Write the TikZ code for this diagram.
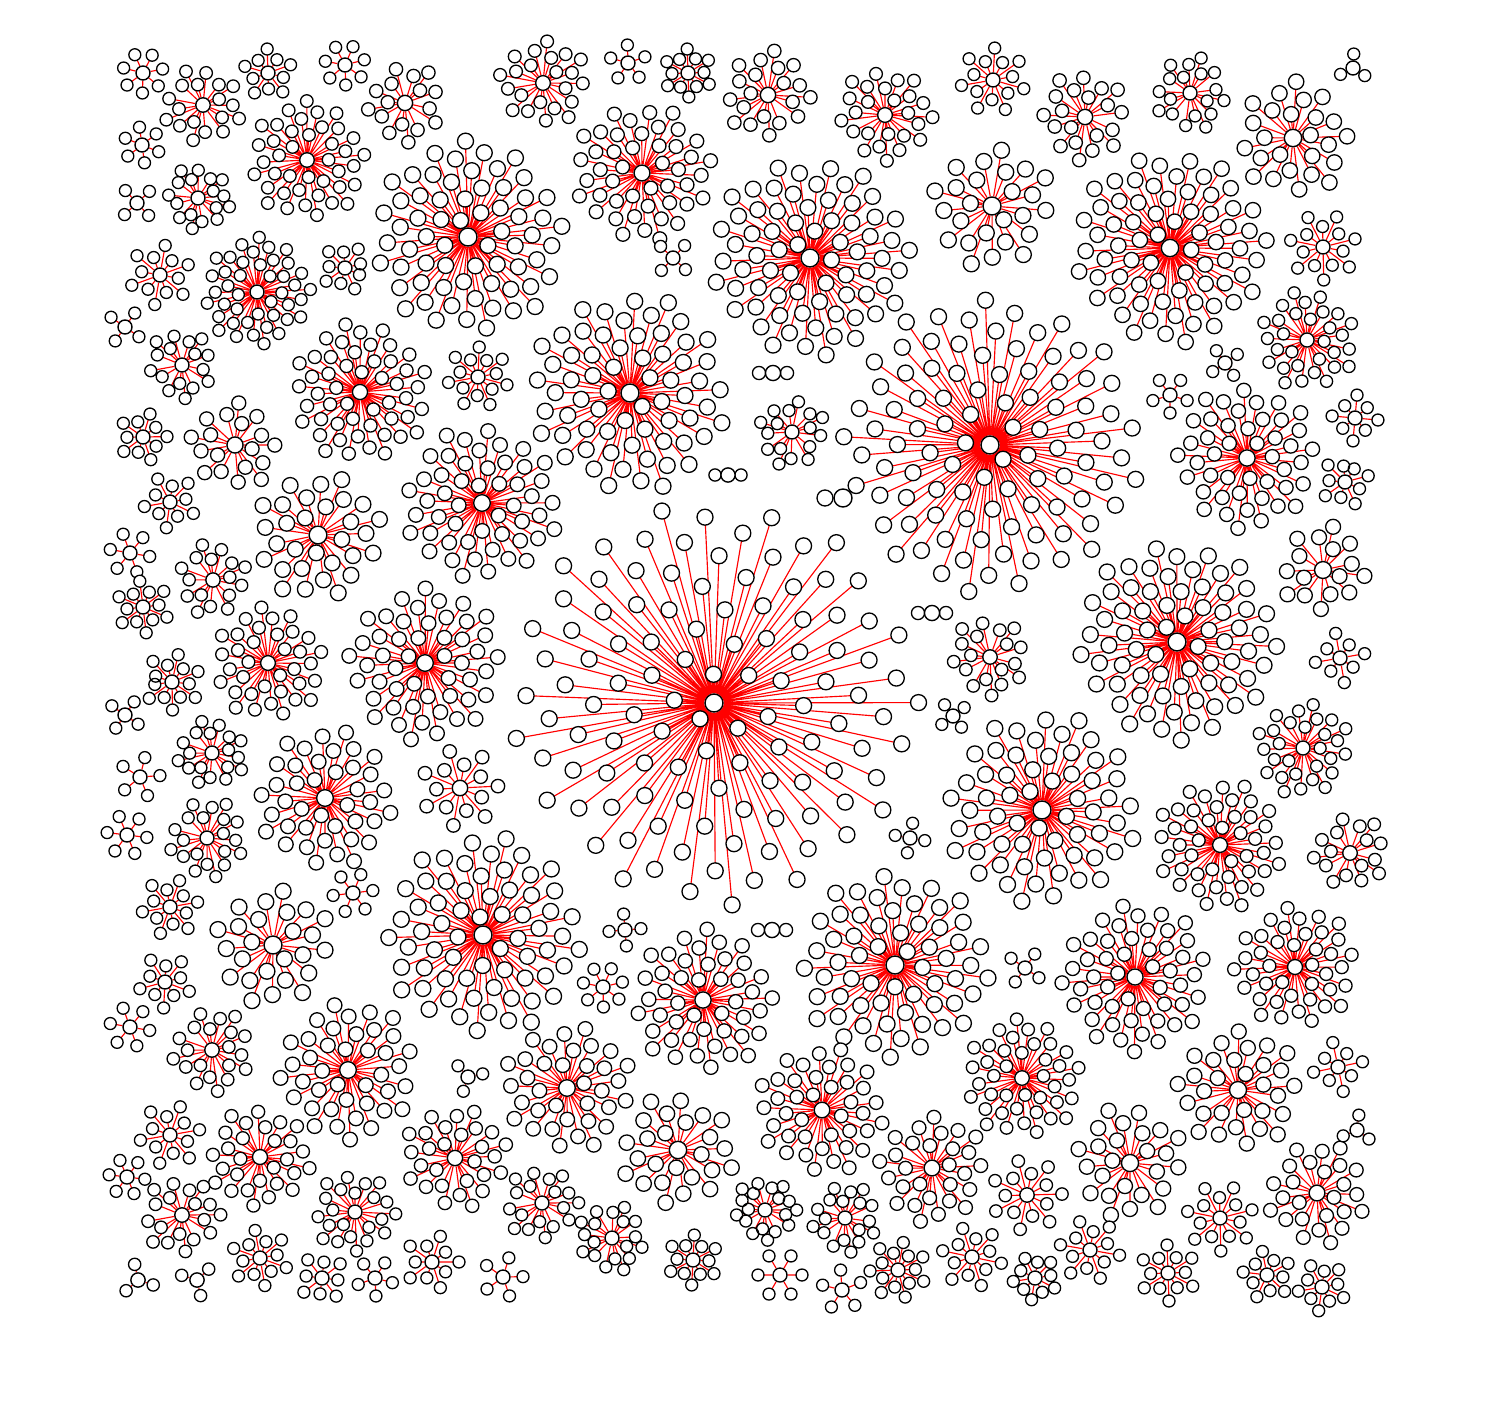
\documentclass[tikz,border=0pt]{standalone}
\usetikzlibrary{backgrounds}

\tikzset{
  hub/.style={circle, draw=black, fill=white, line width=0.8pt, inner sep=0pt},
  leaf/.style={draw=black, fill=white, line width=0.75pt},
  spoke/.style={red, line width=0.65pt},
}

% one star: name, x, y, number of leaves, radius (in px)
\newcommand{\starnet}[5]{%
  \pgfmathsetmacro\lsn{max(12,min(16,0.75*#5*sqrt(3.1416/#4)))}%
  \pgfmathsetlengthmacro\lrr{\lsn*0.01cm}%
  \pgfmathsetlengthmacro\hsz{\lsn*0.02cm+0.04cm}%
  \pgfmathsetmacro\qq{(16/#5)^2}%
  \pgfmathsetmacro\rin{max(16,0.62*#5)}%
  \gdef\spokes{}\gdef\leaves{}%
  \foreach \k in {1,...,#4}{%
    \ifnum#4<3
      \pgfmathsetmacro\ang{180*\k}\pgfmathsetmacro\rad{#5}%
    \else\ifnum#4<8
      \pgfmathsetmacro\ang{360/#4*\k+#2}\pgfmathsetmacro\rad{#5}%
    \else\ifnum#4<15
      % two rings
      \pgfmathsetmacro\ang{360/#4*\k+#2}%
      \ifodd\k \let\rad\rin \else \def\rad{#5}\fi
    \else
      \pgfmathsetmacro\ang{mod(137.508*\k,360)+#2}%
      \pgfmathsetmacro\rad{#5*sqrt(\qq+(1-\qq)*(\k-0.5)/#4)}%
    \fi\fi\fi
    \pgfmathsetmacro\lx{#2+\rad*cos(\ang)}%
    \pgfmathsetmacro\ly{#3+\rad*sin(\ang)}%
    \xdef\spokes{\spokes (#1) -- (\lx,\ly)}%
    \xdef\leaves{\leaves (\lx,\ly) circle[radius=\lrr]}%
  }%
  \draw[leaf] \leaves;
  \node[hub, minimum size=\hsz] (#1) at (#2,#3) {};
  \begin{pgfonlayer}{background}
    \draw[spoke] \spokes;
  \end{pgfonlayer}
}

\begin{document}
\begin{tikzpicture}[x=0.02cm, y=-0.02cm]
  \useasboundingbox (0,0) rectangle (1496,1406);

  % x / y / leaves / radius
  \foreach [count=\i] \px/\py/\nn/\rr in {
    714/703/110/205, 990/445/95/150, 630/393/65/100, 810/258/70/100,
    468/237/65/97, 1170/248/70/97, 1177/642/70/100, 1042/810/60/97,
    483/935/65/100, 895/965/60/95, 482/503/50/78, 425/663/50/78,
    360/392/50/70, 318/535/30/65, 325/798/40/70, 703/1000/45/72,
    1135/977/50/75, 1295/967/40/62, 1220/845/45/65, 1247/458/45/72,
    1307/340/30/50, 1293/138/25/58, 992/206/25/62, 642/173/45/70,
    307/160/40/60, 257/292/42/55, 348/1070/40/70, 567/1088/35/65,
    822/1110/40/65, 1022/1078/40/60, 1238/1090/30/62, 1303/748/28/48,
    1323/570/16/45, 1350/853/16/38, 273/945/25/60, 268/663/35/57,
    235/445/18/45, 203/105/18/40, 160/275/12/30, 182/365/16/35,
    213/580/16/37, 212/753/18/35, 207/838/20/40, 212/1050/20/42,
    455/1158/28/53, 678/1150/25/58, 932/1168/28/55, 1130/1163/25/57,
    1317/1193/25/52, 260/1157/28/52, 182/1215/18/40, 355/1212/22/42,
    542/1203/18/38, 612/1238/18/35, 765/1210/18/32, 845/1218/18/35,
    1027/1195/14/35, 1220/1218/14/33, 1090/1250/12/30, 972/1257/12/30,
    898/1270/14/28, 1168/1273/12/28, 693/1260/12/25, 543/83/22/45,
    768/95/20/45, 885/115/25/48, 1085/117/20/45, 1190/93/18/38,
    993/80/14/32, 405/103/16/40, 688/73/12/24, 628/63/5/18,
    268/73/10/24, 143/73/7/20, 345/65/7/20, 142/145/6/18,
    137/203/4/17, 198/198/17/33, 125/327/4/17, 143/437/10/24,
    170/502/10/26, 130/553/6/20, 143/607/12/26, 172/682/13/28,
    125/715/4/16, 140/777/5/20, 127/835/6/20, 170/907/12/28,
    165/982/10/26, 130/1027/6/20, 170/1135/12/30, 127/1177/6/18,
    138/1280/3/16, 197/1280/3/16, 260/1258/12/28, 322/1278/8/23,
    375/1278/5/18, 432/1262/10/27, 503/1277/5/20, 780/1275/6/22,
    842/1290/5/20, 1035/1278/10/22, 1267/1275/10/24, 1322/1287/10/24,
    1338/1067/8/25, 1357/1130/3/15, 1340/658/8/25, 1345/482/9/24,
    1355/418/8/23, 1323/247/14/33, 1353/68/3/14, 1225/363/4/15,
    1170/395/5/18, 792/432/16/35, 478/377/14/30, 345/268/9/23,
    460/788/14/38, 353/893/6/20, 468/1077/3/15, 625/930/4/16,
    603/987/7/20, 1025/968/4/17, 990/657/18/40, 953/716/4/14,
    932/613/2/14, 910/838/4/15, 773/373/2/14, 728/475/2/13,
    772/930/2/14, 843/498/1/18, 673/258/4/17}
  {
    \starnet{s\i}{\px}{\py}{\nn}{\rr}
  }
\end{tikzpicture}
\end{document}
